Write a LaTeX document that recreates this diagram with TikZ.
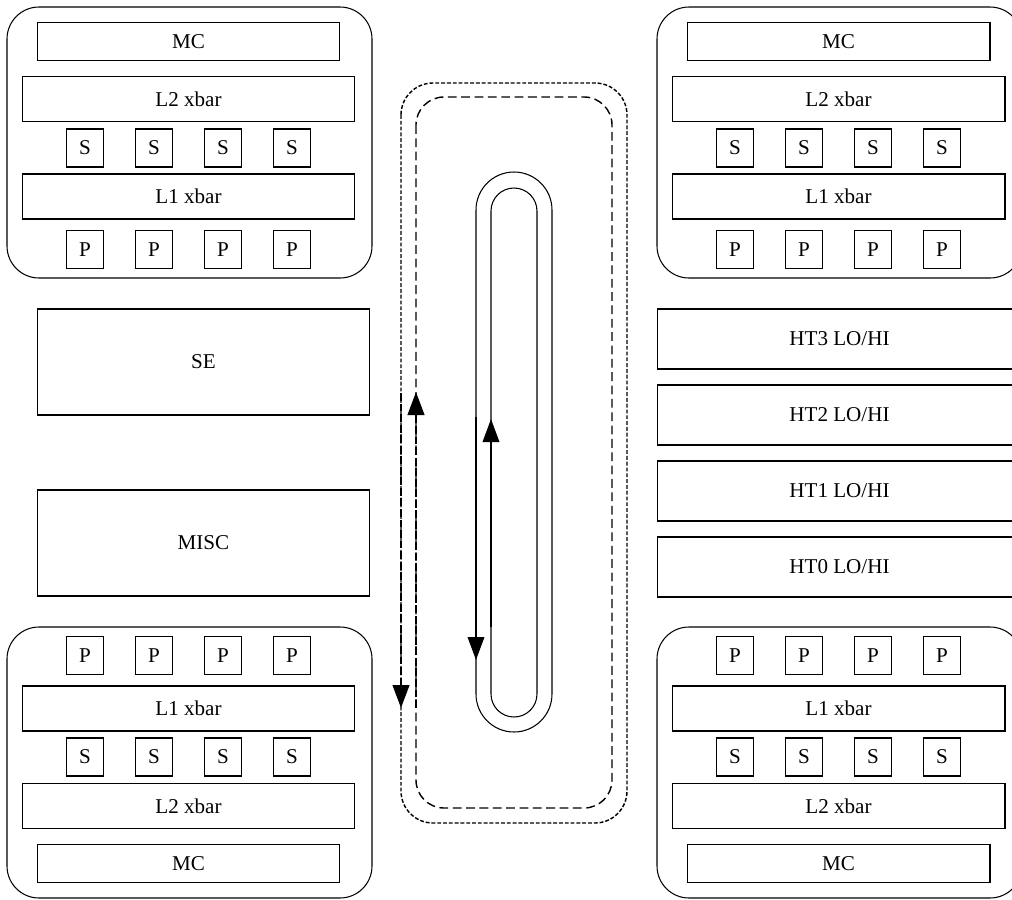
\documentclass[tikz,border=0pt]{standalone}
\usepackage{fontspec}
\setmainfont{Liberation Serif}
\usetikzlibrary{arrows.meta}

\tikzset{
  unit/.style={draw,line width=0.6pt,inner sep=0pt},
  mcbox/.style={unit,minimum width=6.06cm,minimum height=0.76cm},
  xbarbox/.style={unit,minimum width=6.66cm,minimum height=0.9cm},
  cellbox/.style={unit,minimum width=0.74cm,minimum height=0.76cm},
  bigbox/.style={unit,minimum width=6.66cm,minimum height=2.12cm},
  htbox/.style={unit,minimum width=7.3cm,minimum height=1.2cm},
  cluster/.style={line width=0.6pt,rounded corners=0.64cm},
  outerloop/.style={line width=0.8pt,dash pattern=on 2.2pt off 1.1pt,rounded corners=0.64cm},
  innerloop/.style={line width=0.8pt,dash pattern=on 5pt off 2.6pt,rounded corners=0.56cm},
  busarrow/.style={line width=1.1pt,-{Triangle[length=0.46cm,width=0.33cm]}}
}

\begin{document}
\begin{tikzpicture}[x=0.02cm,y=-0.02cm,font=\fontsize{12}{14}\selectfont]
\useasboundingbox (0,0) rectangle (1012,900);

% four processor clusters, the lower two mirrored
\foreach \cx/\cy/\d/\nm in {7/7/1/tl,657/7/1/tr,7/898/-1/bl,657/898/-1/br} {
    \draw[cluster] (\cx,\cy) rectangle ++(365,271*\d);
    \node[mcbox] (\nm-mc) at (\cx+181.5,\cy+34.5*\d) {MC};
    \node[xbarbox] (\nm-l2) at (\cx+181.5,\cy+92*\d) {L2 xbar};
    \node[xbarbox] (\nm-l1) at (\cx+181.5,\cy+189.5*\d) {L1 xbar};
    \foreach \k/\off in {1/78,2/147,3/216,4/285} {
        \node[cellbox] (\nm-s\k) at (\cx+\off,\cy+141*\d) {S};
        \node[cellbox] (\nm-p\k) at (\cx+\off,\cy+242.5*\d) {P};
    }
}

\node[bigbox] (se) at (203.5,362) {SE};
\node[bigbox] (misc) at (203.5,543) {MISC};
\foreach \i/\y in {3/339,2/415,1/491,0/567} {
    \node[htbox] (ht\i) at (839.5,\y) {HT\i\ LO/HI};
}

% ring and crossbar loop in the middle
\draw[outerloop] (401,83) rectangle (627,823);
\draw[innerloop] (416,97) rectangle (612,808);
\draw[line width=0.6pt,rounded corners=0.76cm] (476,172) rectangle (552,732);
\draw[line width=0.6pt,rounded corners=0.46cm] (491,188) rectangle (537,717);

\coordinate (dn-a) at (401,393);
\coordinate (dn-b) at (401,708);
\coordinate (up-a) at (416,708);
\coordinate (up-b) at (416,392);
\coordinate (in-a) at (476,417);
\coordinate (in-b) at (476,660);
\coordinate (out-a) at (491,627);
\coordinate (out-b) at (491,419);
\draw[busarrow,line width=1.5pt,dash pattern=on 4.5pt off 1.5pt] (dn-a) -- (dn-b);
\draw[busarrow,line width=1.5pt,dash pattern=on 4.5pt off 1.5pt] (up-a) -- (up-b);
\draw[busarrow] (in-a) -- (in-b);
\draw[busarrow] (out-a) -- (out-b);
\end{tikzpicture}
\end{document}
